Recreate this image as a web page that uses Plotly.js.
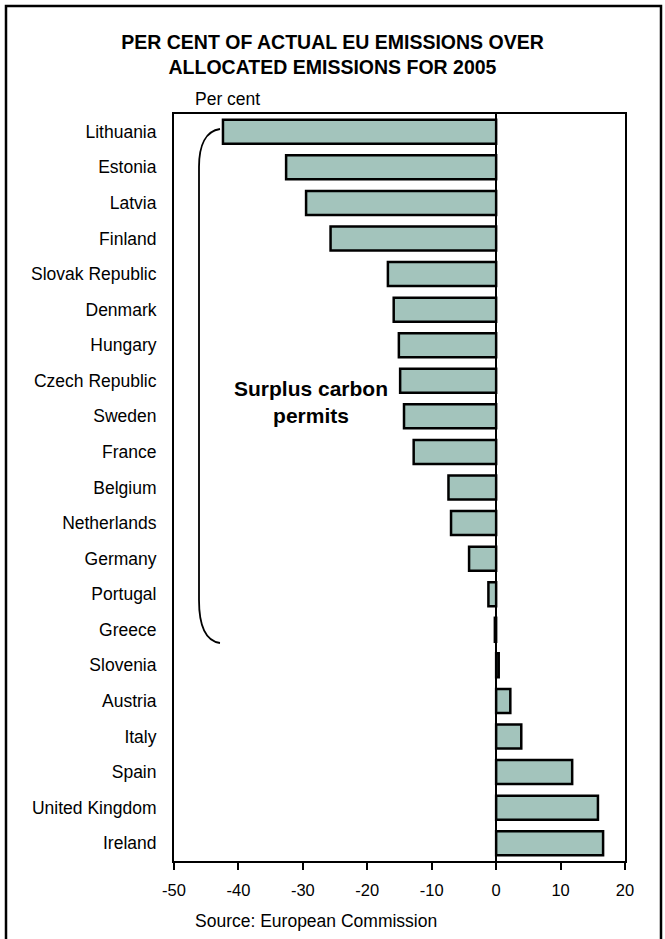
<!DOCTYPE html>
<html>
<head>
<meta charset="utf-8">
<script src="https://cdn.plot.ly/plotly-3.0.1.min.js"></script>
<style>html,body{margin:0;padding:0;background:#fff;}#chart{width:665px;height:939px;}</style>
</head>
<body>
<div id="chart"></div>
<script>
const countries = ["Lithuania","Estonia","Latvia","Finland","Slovak Republic","Denmark","Hungary","Czech Republic","Sweden","France","Belgium","Netherlands","Germany","Portugal","Greece","Slovenia","Austria","Italy","Spain","United Kingdom","Ireland"];
const percentOver = [-42.4,-32.6,-29.5,-25.7,-16.8,-15.9,-15.1,-14.9,-14.3,-12.8,-7.4,-7.0,-4.2,-1.2,-0.2,0.4,2.2,3.9,11.8,15.8,16.6];
const xTicks = [-50,-40,-30,-20,-10,0,10,20];
const titleText = "PER CENT OF ACTUAL EU EMISSIONS OVER<br>ALLOCATED EMISSIONS FOR 2005";
const unitLabel = "Per cent";
const sourceText = "Source: European Commission";
const noteText = "Surplus carbon<br>permits";

const FONT = "Liberation Sans, Arial, sans-serif";
const PL = 174, PW = 451, PT = 114, PB = 861, PH = PB - PT;
const px = v => (v - PL) / PW;
const py = v => (PB - v) / PH;

const trace = {
  type: "bar",
  orientation: "h",
  x: percentOver,
  y: countries,
  marker: {color: "#A3C4BC", line: {color: "#000", width: 2.5}},
  hoverinfo: "x+y"
};

const bracket = "M " + px(220) + " " + py(129) +
  " C " + px(206) + " " + py(131) + " " + px(199) + " " + py(145) + " " + px(199) + " " + py(167) +
  " L " + px(199) + " " + py(600) +
  " C " + px(199) + " " + py(625) + " " + px(205) + " " + py(641) + " " + px(220) + " " + py(643);

const layout = {
  width: 665, height: 939,
  margin: {l: PL, r: 665 - PL - PW, t: PT, b: 939 - PB},
  paper_bgcolor: "#fff", plot_bgcolor: "#fff",
  showlegend: false,
  bargap: 0.325,
  font: {family: FONT, color: "#000", size: 17.5},
  title: {
    text: "<b>" + titleText + "</b>",
    font: {family: FONT, size: 19.5, color: "#000"},
    x: 0.5, xref: "container", xanchor: "center",
    y: 1 - 48.5/939, yref: "container", yanchor: "middle"
  },
  xaxis: {
    range: [-50, 20],
    tickvals: xTicks,
    ticktext: xTicks.map(String),
    ticks: "outside", ticklen: 7, tickwidth: 2, tickcolor: "#000",
    showline: true, linecolor: "#000", linewidth: 2, mirror: true,
    showgrid: false,
    zeroline: true, zerolinecolor: "#000", zerolinewidth: 2,
    tickfont: {family: FONT, size: 16.5, color: "#000"},
    ticklabelstandoff: 6,
    fixedrange: true
  },
  yaxis: {
    type: "category",
    autorange: "reversed",
    showline: true, linecolor: "#000", linewidth: 2, mirror: true,
    showgrid: false, zeroline: false,
    ticks: "",
    ticklabelstandoff: 12,
    tickfont: {family: FONT, size: 17.5, color: "#000"},
    fixedrange: true
  },
  shapes: [
    {type: "rect", xref: "paper", yref: "paper",
     x0: px(6), x1: px(661), y0: py(960), y1: py(6),
     line: {color: "#000", width: 2.5}, fillcolor: "rgba(0,0,0,0)"},
    {type: "path", xref: "paper", yref: "paper", path: bracket,
     line: {color: "#000", width: 1.8}}
  ],
  annotations: [
    {text: unitLabel, xref: "paper", yref: "paper", x: px(193), y: py(99),
     xanchor: "left", yanchor: "middle", showarrow: false,
     font: {family: FONT, size: 17.5, color: "#000"}},
    {text: sourceText, xref: "paper", yref: "paper", x: px(193), y: py(921),
     xanchor: "left", yanchor: "middle", showarrow: false,
     font: {family: FONT, size: 17.5, color: "#000"}},
    {text: "<b>" + noteText + "</b>", xref: "x", yref: "paper", x: -28.7, y: py(401.5),
     xanchor: "center", yanchor: "middle", showarrow: false, align: "center",
     font: {family: FONT, size: 21, color: "#000"}}
  ]
};

Plotly.newPlot("chart", [trace], layout, {displayModeBar: false, staticPlot: true});
</script>
</body>
</html>
